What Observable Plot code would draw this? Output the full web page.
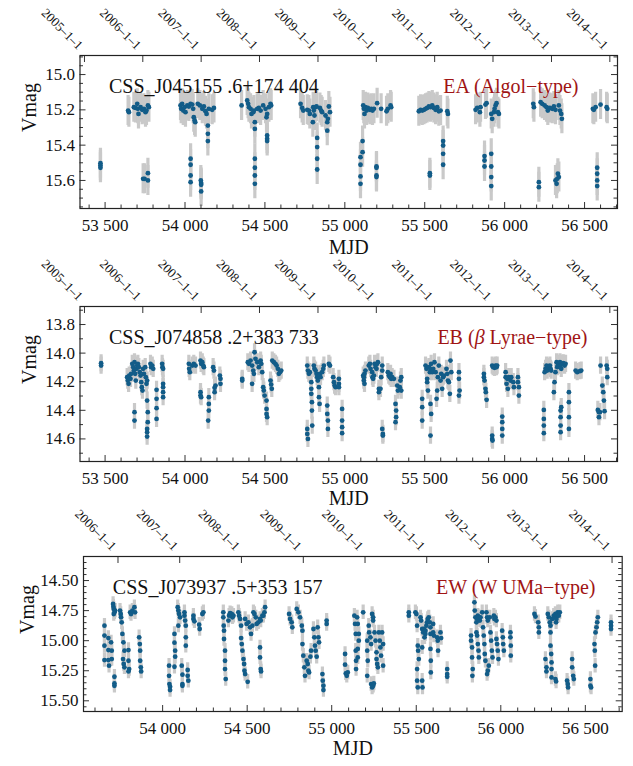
<!DOCTYPE html>
<html><head><meta charset="utf-8">
<script src="https://cdn.jsdelivr.net/npm/d3@7"></script>
<script src="https://cdn.jsdelivr.net/npm/@observablehq/plot@0.6"></script>
<style>
body{margin:0;background:#fff;width:633px;height:766px;position:relative;overflow:hidden;}
.pan{position:absolute;left:0;}
</style></head><body>
<div id="p1" class="pan" style="top:0px"></div>
<div id="p2" class="pan" style="top:250px"></div>
<div id="p3" class="pan" style="top:500px"></div>
<script>
// ---- data: [MJD, Vmag] ----
const obs1 = [
[53471,15.502],[53471,15.515],[53471,15.528],
[53644,15.204],[53649,15.213],[53680,15.185],[53690,15.189],[53701,15.166],[53705,15.194],[53709,15.223],[53722,15.185],[53732,15.200],[53743,15.194],[53753,15.213],[53759,15.204],[53768,15.175],[53774,15.185],
[53738,15.591],[53747,15.591],[53768,15.559],[53768,15.600],
[53972,15.175],[53976,15.194],[53982,15.166],[53989,15.204],[53997,15.185],[54003,15.213],[54014,15.175],[54024,15.181],[54035,15.166],[54045,15.170],[54051,15.194],[54055,15.242],[54060,15.260],[54064,15.270],[54080,15.166],[54093,15.175],[54108,15.194],[54118,15.181],[54128,15.208],[54135,15.223],[54149,15.194],[54170,15.200],[54181,15.189],
[54143,15.289],[54143,15.336],[54143,15.377],
[54035,15.477],[54035,15.511],[54035,15.572],[54035,15.610],
[54099,15.600],[54101,15.615],[54101,15.625],[54101,15.662],
[54354,15.175],[54389,15.147],[54395,15.166],[54400,15.185],[54410,15.194],[54416,15.223],[54427,15.213],[54431,15.204],[54452,15.194],[54462,15.189],[54473,15.204],[54489,15.175],[54504,15.194],[54510,15.242],[54514,15.223],[54525,15.185],[54535,15.166],[54539,15.175],
[54437,15.270],[54437,15.308],
[54437,15.477],[54437,15.528],[54437,15.572],[54437,15.619],
[54514,15.345],[54514,15.364],[54514,15.377],
[54723,15.166],[54733,15.189],[54740,15.204],[54765,15.200],[54775,15.204],[54781,15.223],[54802,15.185],[54806,15.204],[54810,15.232],[54817,15.185],[54823,15.181],[54844,15.189],[54852,15.204],[54858,15.213],[54879,15.232],[54894,15.251],[54900,15.181],[54907,15.213],
[54800,15.270],
[54827,15.359],[54827,15.411],[54827,15.477],[54827,15.538],
[54890,15.270],[54890,15.318],
[55115,15.175],[55119,15.194],[55123,15.223],[55129,15.185],[55136,15.204],[55144,15.189],[55157,15.200],[55165,15.194],[55173,15.204],[55182,15.194],[55202,15.162],[55227,15.194],[55261,15.208],[55269,15.194],[55286,15.175],[55290,15.185],
[55098,15.468],[55098,15.511],[55098,15.577],[55098,15.619],
[55111,15.377],[55111,15.440],
[55198,15.521],[55198,15.528],[55198,15.572],[55198,15.581],
[55463,15.208],[55474,15.200],[55484,15.204],[55495,15.200],[55505,15.194],[55515,15.189],[55526,15.181],[55536,15.185],[55547,15.175],[55557,15.189],[55568,15.200],[55578,15.185],[55588,15.208],[55599,15.204],[55641,15.208],[55645,15.223],
[55532,15.559],[55532,15.572],
[55615,15.377],[55615,15.402],[55615,15.449],[55615,15.511],
[55818,15.200],[55828,15.189],[55845,15.213],[55849,15.185],[55880,15.170],[55887,15.162],[55916,15.223],[55922,15.251],[55933,15.213],[55937,15.194],[55943,15.175],[55949,15.162],[55958,15.213],[55964,15.223],
[55874,15.462],[55874,15.487],[55874,15.521],
[55916,15.449],[55916,15.521],[55916,15.581],[55916,15.632],
[56179,15.166],[56183,15.185],[56225,15.157],[56235,15.166],[56250,15.175],[56262,15.185],[56270,15.204],[56283,15.189],[56298,15.194],[56308,15.181],[56318,15.200],[56339,15.175],[56346,15.204],[56354,15.223],[56358,15.251],
[56214,15.610],[56214,15.638],
[56318,15.600],[56325,15.619],[56329,15.591],[56333,15.562],[56339,15.581],
[56552,15.194],[56558,15.200],[56569,15.185],[56600,15.170],[56638,15.185],[56642,15.194],
[56579,15.528],[56579,15.562],[56579,15.600],[56579,15.632]
];
const obs2 = [
[53475,14.071],[53475,14.087],
[53638,14.168],[53642,14.192],[53647,14.215],[53651,14.157],[53659,14.180],[53663,14.145],[53670,14.075],[53676,14.098],[53680,14.122],[53684,14.064],[53688,14.145],[53692,14.192],[53697,14.110],[53701,14.087],[53705,14.075],[53711,14.098],[53717,14.133],[53722,14.157],[53726,14.203],[53730,14.238],[53734,14.262],[53738,14.110],[53743,14.145],[53751,14.098],[53755,14.168],[53759,14.215],[53763,14.192],[53784,14.075],[53788,14.098],[53795,14.087],[53801,14.110],
[53684,14.413],[53684,14.472],
[53763,14.332],[53767,14.413],[53767,14.483],[53763,14.530],[53763,14.553],[53763,14.584],
[53822,14.257],[53822,14.320],[53822,14.385],[53822,14.460],
[53863,14.215],[53863,14.238],[53863,14.273],[53863,14.308],
[53857,14.075],[53859,14.098],[53863,14.110],
[54024,14.075],[54026,14.110],[54030,14.133],[54045,14.087],[54055,14.075],[54066,14.087],[54097,14.052],[54101,14.075],[54108,14.064],[54114,14.087],[54118,14.098],
[54097,14.273],[54097,14.297],[54101,14.308],
[54149,14.308],[54149,14.355],[54149,14.402],[54145,14.472],
[54176,14.098],[54181,14.122],[54185,14.243],[54185,14.273],[54191,14.227],[54218,14.157],[54222,14.180],[54222,14.215],
[54358,14.180],[54358,14.192],[54393,14.064],[54400,14.075],[54410,14.052],[54420,14.087],[54427,14.122],[54431,14.145],[54435,13.994],[54441,14.040],[54452,14.064],[54462,14.098],[54473,14.052],[54477,14.075],[54483,14.133],[54489,14.238],[54493,14.262],[54498,14.297],
[54420,14.215],
[54510,14.332],[54510,14.390],[54510,14.425],[54514,14.448],
[54535,14.192],[54539,14.220],[54543,14.250],
[54546,14.052],[54556,14.064],[54566,14.075],[54573,14.087],[54581,14.110],[54587,14.145],[54594,14.133],[54602,14.122],
[54765,14.087],[54769,14.122],[54775,14.145],[54781,14.133],
[54765,14.530],[54765,14.565],[54769,14.600],
[54790,14.203],[54790,14.250],[54790,14.285],[54794,14.343],[54794,14.402],[54796,14.507],
[54806,14.087],[54810,14.110],[54817,14.122],[54823,14.145],[54827,14.168],[54831,14.192],[54838,14.238],[54844,14.145],[54848,14.168],[54858,14.133],[54865,14.110],[54869,14.087],
[54838,14.308],[54842,14.355],
[54890,14.367],[54890,14.425],[54894,14.472],[54894,14.530],
[54900,14.075],[54907,14.087],
[54927,14.168],[54932,14.203],[54936,14.227],[54942,14.238],
[54963,14.180],[54963,14.215],[54963,14.238],
[54983,14.390],[54983,14.472],[54983,14.518],[54983,14.560],
[55115,14.157],[55119,14.192],[55119,14.168],[55123,14.215],[55123,14.145],[55129,14.122],[55150,14.087],[55157,14.075],[55161,14.110],[55171,14.133],[55173,14.168],[55177,14.180],[55182,14.157],[55186,14.075],[55192,14.098],[55198,14.110],[55202,14.075],[55207,14.064],[55213,14.250],[55213,14.273],[55223,14.250],[55227,14.168],[55234,14.087],[55234,14.122],
[55234,14.530],[55238,14.565],[55238,14.577],
[55269,14.133],[55275,14.157],[55282,14.168],[55286,14.145],[55290,14.180],[55296,14.168],[55307,14.180],
[55317,14.355],[55321,14.402],[55321,14.448],[55317,14.483],
[55328,14.227],[55332,14.262],[55344,14.238],[55348,14.192],[55353,14.168],[55353,14.262],
[55484,14.320],[55484,14.378],[55484,14.472],
[55505,14.087],[55511,14.110],[55515,14.180],[55515,14.203],[55520,14.262],[55526,14.098],[55532,14.133],[55536,14.110],[55540,14.075],[55547,14.133],[55553,14.110],
[55536,14.355],[55540,14.425],[55536,14.577],
[55561,14.064],[55568,14.133],[55574,14.320],[55578,14.262],[55582,14.168],[55588,14.087],[55599,14.192],[55603,14.145],[55609,14.250],[55615,14.168],[55620,14.157],
[55636,14.110],[55641,14.145],[55645,14.192],[55651,14.203],[55657,14.285],[55661,14.052],[55666,14.133],
[55714,14.133],[55714,14.180],[55718,14.262],[55714,14.297],
[55870,14.145],[55870,14.168],[55874,14.192],[55880,14.250],[55882,14.273],[55887,14.327],
[55922,14.087],[55928,14.098],[55937,14.103],[55943,14.087],[55949,14.098],[55953,14.087],
[55922,14.577],[55922,14.600],[55924,14.612],
[55985,14.444],[55985,14.483],[55985,14.530],[55985,14.577],
[56006,14.133],[56006,14.168],[56012,14.215],[56016,14.180],[56020,14.250],[56026,14.168],[56037,14.192],[56041,14.168],[56054,14.203],[56058,14.238],[56083,14.168],[56083,14.203],[56089,14.238],[56089,14.297],
[56245,14.397],[56245,14.460],[56245,14.507],[56245,14.560],
[56250,14.133],[56256,14.110],[56262,14.087],[56266,14.122],[56277,14.098],[56283,14.087],[56287,14.110],[56291,14.122],
[56308,14.273],[56312,14.203],[56318,14.133],[56325,14.064],[56329,14.098],[56333,14.087],[56339,14.075],[56346,14.064],[56350,14.087],[56354,14.110],[56360,14.075],[56366,14.071],[56371,14.075],[56375,14.087],[56381,14.075],
[56354,14.378],[56350,14.402],[56350,14.448],[56350,14.507],[56350,14.553],
[56402,14.273],[56402,14.343],[56402,14.448],[56402,14.530],
[56444,14.122],[56454,14.133],[56471,14.126],[56479,14.122],
[56583,14.397],[56590,14.413],[56590,14.448],[56596,14.413],
[56600,14.087],[56611,14.227],[56617,14.273],[56621,14.332],[56625,14.406],
[56638,14.087],[56642,14.110],[56642,14.168]
];
const obs3 = [
[53656,14.875],[53656,14.958],[53656,15.042],[53656,15.161],
[53679,14.978],[53679,15.078],[53679,15.161],[53683,15.208],
[53695,15.014],[53699,15.083],[53699,15.153],
[53707,14.694],[53709,14.717],[53711,14.736],[53715,14.764],[53719,14.750],[53711,14.778],
[53715,15.300],[53715,15.356],[53715,15.375],
[53748,14.750],[53752,14.778],[53754,14.806],[53758,14.847],[53762,14.944],[53768,15.014],[53774,15.083],[53766,15.153],[53770,15.194],[53774,15.222],
[53798,15.078],[53798,15.167],[53802,15.236],[53798,15.256],
[53808,14.764],[53813,14.778],[53821,14.750],[53833,14.722],[53837,14.764],
[53861,14.972],[53865,15.028],[53867,15.083],[53867,15.167],[53871,15.222],[53873,15.256],
[54038,15.208],[54038,15.292],[54040,15.361],[54044,15.383],[54044,15.411],
[54070,14.944],[54070,15.017],[54074,15.083],[54074,15.133],[54070,15.217],
[54089,14.722],[54093,14.750],[54097,14.778],[54103,14.806],[54093,14.875],
[54113,15.208],[54117,15.283],[54117,15.361],[54117,15.375],
[54129,14.764],[54129,14.792],[54133,14.833],[54137,14.875],[54137,14.972],[54137,15.042],
[54148,15.244],[54148,15.292],[54152,15.333],
[54182,14.792],[54182,14.819],[54188,14.839],
[54216,14.867],[54219,14.903],
[54235,14.778],[54241,14.764],
[54359,14.764],[54359,14.806],[54361,14.875],[54363,14.917],[54363,14.986],[54369,15.083],[54369,15.167],[54369,15.236],[54373,15.319],
[54389,14.833],[54393,14.792],[54399,14.772],[54409,14.778],[54413,14.806],[54419,14.792],
[54448,14.764],[54452,14.792],[54458,14.819],[54464,14.875],[54464,14.978],[54468,15.028],[54472,15.083],[54478,15.153],[54482,15.194],[54484,15.250],[54488,15.278],
[54503,15.342],
[54488,14.819],[54497,14.861],[54507,14.847],[54517,14.889],[54523,14.944],[54531,14.875],[54537,14.764],[54543,14.778],[54551,14.806],[54556,14.861],[54566,14.847],[54576,14.819],[54580,14.833],[54590,14.792],[54596,14.792],[54602,14.764],[54606,14.722],
[54576,15.056],[54576,15.139],[54580,15.236],[54582,15.256],
[54748,14.778],[54754,14.819],[54763,14.847],[54767,14.889],[54793,14.736],[54803,14.764],[54813,14.806],[54823,14.875],[54827,14.917],
[54827,15.028],[54832,15.125],[54838,15.222],[54842,15.292],[54852,15.167],[54858,15.194],[54862,15.250],[54866,15.264],[54874,15.133],[54878,15.083],
[54892,14.903],[54897,14.972],[54901,15.042],[54905,15.083],[54911,15.133],
[54917,14.889],[54921,14.972],[54925,15.014],
[54945,15.278],[54947,15.333],[54951,15.375],[54951,15.411],
[54970,14.833],[54970,14.861],
[55079,15.111],[55079,15.200],[55083,15.272],[55089,15.292],[55095,15.264],
[55134,14.792],[55138,14.861],[55142,14.944],[55142,15.083],[55144,15.167],[55144,15.236],
[55150,14.806],[55154,14.861],[55160,14.944],[55160,15.000],[55154,15.069],[55154,15.139],
[55186,14.764],
[55210,15.000],[55210,15.083],[55213,15.167],[55210,15.292],
[55219,14.875],[55221,14.931],[55229,14.972],[55233,15.028],
[55239,14.778],[55245,14.806],[55245,14.833],
[55233,15.361],[55239,15.389],[55245,15.375],[55249,15.356],
[55253,14.931],[55259,15.000],[55265,15.097],[55265,15.153],[55269,15.194],[55273,15.222],
[55279,14.931],[55284,15.000],[55288,15.056],[55292,15.125],[55298,14.931],[55304,15.028],[55304,15.208],
[55456,14.764],[55456,14.792],
[55495,14.764],[55501,14.778],[55505,14.875],[55509,15.042],[55511,15.083],[55515,15.153],[55505,15.236],[55505,15.333],[55509,15.389],
[55525,14.806],[55529,14.833],[55535,14.903],[55541,14.931],[55545,14.903],[55554,14.917],[55560,14.875],[55564,14.847],[55568,14.819],[55574,14.806],[55580,14.847],[55584,14.889],[55554,14.944],[55549,14.972],
[55535,15.056],[55535,15.333],[55537,15.389],
[55584,14.944],[55584,15.069],[55586,15.167],[55586,15.264],
[55600,14.861],[55600,14.931],[55604,14.958],
[55623,14.972],[55627,15.000],[55629,15.083],
[55643,14.931],[55647,14.978],
[55683,15.236],[55683,15.278],[55683,15.300],
[55824,14.958],[55824,15.000],[55830,15.056],[55830,15.139],[55834,15.236],[55832,15.292],
[55844,14.681],[55846,14.750],[55850,14.806],[55856,14.847],[55860,14.819],[55864,14.792],[55870,14.806],[55876,14.833],[55880,14.806],
[55856,14.931],[55860,14.958],[55864,15.028],[55868,15.083],[55870,15.139],
[55890,14.764],[55895,14.889],[55899,14.958],[55903,15.028],[55905,15.111],[55909,15.167],
[55915,14.764],[55919,14.806],[55923,14.833],[55919,15.278],[55923,15.250],[55929,15.208],
[55935,14.806],[55939,14.931],[55943,15.000],[55947,15.083],[55951,15.139],
[55959,14.792],[55962,14.819],[55968,14.806],[55974,14.833],
[55974,14.986],[55978,15.028],[55982,15.083],[55986,15.153],
[56008,14.917],[56012,14.972],[56014,15.028],[56018,15.083],
[56057,14.931],[56057,14.972],[56059,15.042],[56059,15.125],
[56199,14.778],[56205,14.800],
[56221,14.847],[56225,14.889],[56225,14.931],
[56264,15.153],[56270,15.222],[56270,15.256],
[56278,14.778],[56284,14.806],[56290,14.847],[56294,14.875],[56294,14.931],[56294,15.042],[56298,15.111],[56300,15.181],[56300,15.236],[56300,15.306],
[56304,14.819],[56313,14.792],[56317,14.806],[56323,14.778],[56327,14.847],[56329,14.819],[56333,14.792],[56337,14.764],[56343,14.792],[56349,14.764],
[56323,15.319],[56327,15.339],
[56392,15.333],[56396,15.361],[56398,15.389],
[56422,15.153],[56422,15.222],[56428,15.292],[56432,15.319],
[56530,15.319],[56530,15.375],[56534,15.389],
[56554,15.028],[56556,15.083],[56558,15.208],[56560,14.931],[56566,14.889],[56570,14.847],[56574,14.806],
[56652,14.847],[56652,14.875],[56652,14.903]
];
// calendar ticks (MJD of 1 January) and their labels
const yearMJD = [53371,53736,54101,54466,54832,55197,55562,55927,56293,56658];
const yearLabel = ["2005–1–1","2006–1–1","2007–1–1","2008–1–1","2009–1–1","2010–1–1","2011–1–1","2012–1–1","2013–1–1","2014–1–1"];
const names = ["CSS_J045155 .6+174 404","CSS_J074858 .2+383 733","CSS_J073937 .5+353 157"];
const types = ["EA (Algol−type)","EB (β Lyrae−type)","EW (W UMa−type)"];
const yTicks1 = [15.0,15.2,15.4,15.6];
const yTicks2 = [13.8,14.0,14.2,14.4,14.6];
const yTicks3 = [14.50,14.75,15.00,15.25,15.50];

const FONT = "'Liberation Serif','Times New Roman',serif";
const fmtMJD = d => { const s = String(d); return s.slice(0,2) + " " + s.slice(2); };

function panel(cfg) {
  const {obs, err, xDomain, yDomain, height, mt, mb, ml, mr, yMajor, yMinorStep, yFmt, name, type, nameDx, typeDx, vx, mjdDy} = cfg;
  const W = 633, innerW = W - ml - mr, innerH = height - mt - mb;
  const inX = v => v >= xDomain[0] && v <= xDomain[1];
  const inY = v => v >= yDomain[0] - 1e-9 && v <= yDomain[1] + 1e-9;
  const xMaj = d3.range(53000, 57001, 500).filter(inX);
  const xMin = d3.range(53000, 57001, 100).filter(v => v % 500 !== 0).filter(inX);
  const yMin = d3.range(Math.ceil(yDomain[0] / yMinorStep) * yMinorStep, yDomain[1], yMinorStep)
    .map(v => +v.toFixed(4))
    .filter(v => inY(v) && !yMajor.some(m => Math.abs(m - v) < 1e-6));
  const yrs = yearMJD.filter(inX);
  const lab = new Map(yearMJD.map((v, i) => [v, yearLabel[i]]));
  const tk = "#333";
  const svg = Plot.plot({
    width: W, height, marginTop: mt, marginBottom: mb, marginLeft: ml, marginRight: mr,
    x: {domain: xDomain},
    y: {domain: yDomain, reverse: true},
    style: {fontFamily: FONT, background: "transparent", overflow: "visible", color: "#111"},
    marks: [
      Plot.ruleX(obs, {x: d => d[0], y1: d => d[1] - err, y2: d => d[1] + err, stroke: "#c9c9c9", strokeWidth: 3.2, clip: true}),
      Plot.dot(obs, {x: d => d[0], y: d => d[1], r: 2.4, fill: "#125c88", clip: true}),
      Plot.tickX(xMaj, {x: d => d, insetTop: innerH - 6, stroke: tk}),
      Plot.tickX(xMin, {x: d => d, insetTop: innerH - 3.5, stroke: tk}),
      Plot.tickX(yrs, {x: d => d, insetBottom: innerH - 7, stroke: tk}),
      Plot.tickY(yMajor, {y: d => d, insetRight: innerW - 6, stroke: tk}),
      Plot.tickY(yMajor, {y: d => d, insetLeft: innerW - 6, stroke: tk}),
      Plot.tickY(yMin, {y: d => d, insetRight: innerW - 3.5, stroke: tk}),
      Plot.tickY(yMin, {y: d => d, insetLeft: innerW - 3.5, stroke: tk}),
      Plot.frame({stroke: "#222", strokeWidth: 1.2}),
      Plot.axisX(xMaj, {anchor: "bottom", tickSize: 0, tickPadding: 10, tickFormat: fmtMJD, fontSize: 17, label: null, fill: "#111"}),
      Plot.axisX(yrs, {anchor: "top", tickSize: 0, tickRotate: 45, textAnchor: "end", lineAnchor: "middle", tickPadding: 8, dx: -4, tickFormat: d => lab.get(d), fontSize: 13, label: null, fill: "#111"}),
      Plot.axisY(yMajor, {anchor: "left", tickSize: 0, tickPadding: 5, tickFormat: yFmt, fontSize: 17, label: null, fill: "#111"}),
      Plot.text(["Vmag"], {frameAnchor: "left", dx: -(ml - vx), rotate: -90, fontSize: 20, fill: "#111"}),
      Plot.text(["MJD"], {frameAnchor: "bottom", dy: mjdDy, fontSize: 20, fill: "#111"}),
      Plot.text([name], {frameAnchor: "top-left", dx: nameDx, dy: 23.6, textAnchor: "start", fontSize: 20, fill: "#111"}),
      Plot.text([type], {frameAnchor: "top-right", dx: typeDx, dy: 23.6, textAnchor: "end", fontSize: 20, fill: "#a01414"})
    ]
  });
  return svg;
}

const p1 = panel({obs: obs1, err: 0.085, xDomain: [53343, 56706], yDomain: [14.892, 15.759], height: 262, mt: 55, mb: 54, ml: 79.5, mr: 16,
  yMajor: yTicks1, yMinorStep: 0.05, yFmt: d3.format(".1f"), name: names[0], type: types[0], nameDx: 29, typeDx: -39, vx: 29, mjdDy: 45});
const p2 = panel({obs: obs2, err: 0.06, xDomain: [53343, 56706], yDomain: [13.674, 14.758], height: 265, mt: 56, mb: 54, ml: 79.5, mr: 16,
  yMajor: yTicks2, yMinorStep: 0.1, yFmt: d3.format(".1f"), name: names[1], type: types[1], nameDx: 29, typeDx: -30, vx: 29, mjdDy: 43});
const p3 = panel({obs: obs3, err: 0.06, xDomain: [53532, 56718], yDomain: [14.30, 15.589], height: 266, mt: 56, mb: 55, ml: 83, mr: 11.3,
  yMajor: yTicks3, yMinorStep: 0.05, yFmt: d3.format(".2f"), name: names[2], type: types[2], nameDx: 29.3, typeDx: -26.7, vx: 27, mjdDy: 43});

document.getElementById("p1").appendChild(p1);
document.getElementById("p2").appendChild(p2);
document.getElementById("p3").appendChild(p3);

// italic beta
p2.querySelectorAll("text").forEach(t => {
  if (t.textContent === types[1]) {
    t.innerHTML = 'EB (<tspan font-style="italic">β</tspan> Lyrae−type)';
  }
});
</script>
</body></html>
